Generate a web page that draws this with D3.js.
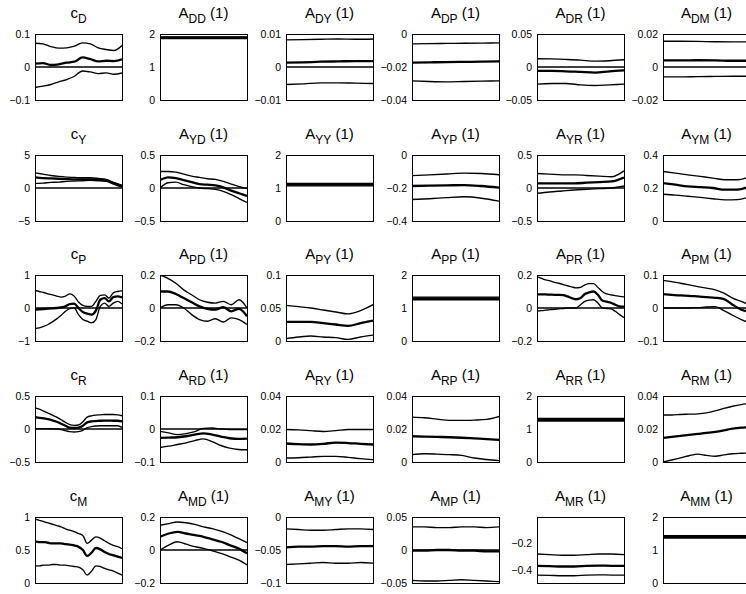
<!DOCTYPE html>
<html>
<head>
<meta charset="utf-8">
<script src="https://cdn.jsdelivr.net/npm/d3@7"></script>
<style>
  html, body { margin: 0; padding: 0; background: #fff; }
  svg { display: block; font-family: "Liberation Sans", Arial, Helvetica, sans-serif; }
</style>
</head>
<body>
<svg id="chart" width="746" height="594"></svg>
<script>
// ---- data ----
const rowVars = ["D", "Y", "P", "R", "M"];
const colVars = ["D", "Y", "P", "R", "M"];

// y-axis limits per panel (row-major, 6 per row)
const yDomains = [
  [-0.1, 0.1], [0, 2], [-0.01, 0.01], [-0.04, 0], [-0.05, 0.05], [-0.02, 0.02],
  [-5, 5], [-0.5, 0.5], [0, 2], [-0.4, 0], [-0.5, 0.5], [0, 0.4],
  [-1, 1], [-0.2, 0.2], [0, 0.1], [0, 2], [-0.2, 0.2], [-0.1, 0.1],
  [-0.5, 0.5], [-0.1, 0.1], [0, 0.04], [0, 0.04], [0, 2], [0, 0.04],
  [0, 1], [-0.2, 0.2], [-0.1, 0], [-0.05, 0.05], [-0.5, 0], [0, 2]
];
const yTicks = [
  [-0.1, 0, 0.1], [0, 1, 2], [-0.01, 0, 0.01], [-0.04, -0.02, 0], [-0.05, 0, 0.05], [-0.02, 0, 0.02],
  [-5, 0, 5], [-0.5, 0, 0.5], [0, 1, 2], [-0.4, -0.2, 0], [-0.5, 0, 0.5], [0, 0.2, 0.4],
  [-1, 0, 1], [-0.2, 0, 0.2], [0, 0.05, 0.1], [0, 1, 2], [-0.2, 0, 0.2], [-0.1, 0, 0.1],
  [-0.5, 0, 0.5], [-0.1, 0, 0.1], [0, 0.02, 0.04], [0, 0.02, 0.04], [0, 1, 2], [0, 0.02, 0.04],
  [0, 0.5, 1], [-0.2, 0, 0.2], [-0.1, -0.05, 0], [-0.05, 0, 0.05], [-0.4, -0.2], [0, 1, 2]
];

// each panel: [upper band, median, lower band]
const cD = [
  [0.072,0.07,0.062,0.057,0.058,0.063,0.073,0.07,0.058,0.053,0.05,0.065],
  [0.01,0.012,0.006,0.008,0.013,0.016,0.029,0.024,0.017,0.019,0.018,0.023],
  [-0.062,-0.058,-0.053,-0.045,-0.038,-0.028,-0.012,-0.015,-0.02,-0.018,-0.022,-0.018]
];
const ADD = [
  [1.915,1.915,1.915,1.915,1.915,1.915],
  [1.89,1.89,1.89,1.89,1.89,1.89],
  [1.865,1.865,1.865,1.865,1.865,1.865]
];
const ADY = [
  [0.0082,0.0083,0.0084,0.0085,0.0084,0.0085],
  [0.0013,0.0014,0.0016,0.0017,0.0018,0.0018],
  [-0.0053,-0.0051,-0.0048,-0.0048,-0.0049,-0.005]
];
const ADP = [
  [-0.006,-0.0058,-0.0057,-0.0056,-0.0055,-0.0054],
  [-0.0174,-0.0172,-0.017,-0.0169,-0.0168,-0.0166],
  [-0.0284,-0.0288,-0.029,-0.0288,-0.0286,-0.0284]
];
const ADR = [
  [0.0125,0.0122,0.0115,0.0105,0.0088,0.0095,0.011],
  [-0.006,-0.006,-0.0065,-0.0075,-0.0085,-0.0065,-0.005],
  [-0.026,-0.025,-0.025,-0.027,-0.028,-0.027,-0.026]
];
const ADM = [
  [0.0156,0.0156,0.0155,0.0153,0.0152,0.0152],
  [0.004,0.004,0.0041,0.004,0.0038,0.0038],
  [-0.006,-0.006,-0.0058,-0.0057,-0.0056,-0.0056]
];
const cY = [
  [2.3,2.1,1.9,1.75,1.65,1.6,1.55,1.55,1.45,1.3,0.8,0.4],
  [1.6,1.5,1.45,1.4,1.35,1.3,1.3,1.3,1.25,1.15,0.7,0.3],
  [0.7,0.75,0.85,0.9,1.0,1.05,1.1,1.15,1.1,1.0,0.55,0.15]
];
const AYD = [
  [0.25,0.25,0.24,0.21,0.18,0.16,0.14,0.13,0.1,0.06,0.02,-0.01],
  [0.12,0.16,0.15,0.12,0.09,0.06,0.05,0.04,0.01,-0.04,-0.08,-0.12],
  [0.0,0.08,0.09,0.05,0.02,0.0,-0.01,-0.02,-0.05,-0.1,-0.16,-0.22]
];
const AYY = [
  [1.135,1.135,1.135,1.135,1.135,1.135],
  [1.1,1.1,1.1,1.1,1.1,1.1],
  [1.065,1.065,1.065,1.065,1.065,1.065]
];
const AYP = [
  [-0.125,-0.12,-0.115,-0.11,-0.112,-0.12],
  [-0.188,-0.186,-0.184,-0.182,-0.188,-0.198],
  [-0.27,-0.265,-0.258,-0.253,-0.262,-0.28]
];
const AYR = [
  [0.22,0.21,0.2,0.2,0.19,0.18,0.17,0.26],
  [0.07,0.07,0.07,0.07,0.08,0.09,0.1,0.16],
  [-0.08,-0.06,-0.045,-0.03,-0.02,-0.01,0.0,0.03]
];
const AYM = [
  [0.3,0.29,0.28,0.27,0.26,0.25,0.25,0.27],
  [0.23,0.22,0.21,0.205,0.2,0.19,0.19,0.21],
  [0.162,0.157,0.15,0.143,0.135,0.128,0.13,0.148]
];
const cP = [
  [0.53,0.5,0.47,0.43,0.4,0.36,0.33,0.36,0.43,0.36,0.18,0.08,0.05,0.05,0.2,0.38,0.4,0.3,0.46,0.5,0.52],
  [-0.05,-0.04,-0.03,-0.02,-0.01,0.0,0.02,0.05,0.12,0.13,0.0,-0.12,-0.17,-0.2,-0.08,0.25,0.3,0.2,0.33,0.35,0.32],
  [-0.62,-0.6,-0.56,-0.5,-0.42,-0.33,-0.22,-0.1,-0.02,0.0,-0.2,-0.35,-0.4,-0.45,-0.35,0.05,0.15,0.05,0.15,0.2,0.12]
];
const APD = [
  [0.2,0.18,0.15,0.11,0.08,0.05,0.035,0.03,0.04,0.02,0.05,0.0],
  [0.1,0.1,0.085,0.06,0.035,0.01,-0.005,-0.01,0.005,-0.02,-0.005,-0.05],
  [0.0,0.02,0.02,0.0,-0.04,-0.07,-0.08,-0.065,-0.085,-0.06,-0.07,-0.1]
];
const APY = [
  [0.054,0.052,0.05,0.047,0.044,0.041,0.046,0.055],
  [0.029,0.029,0.029,0.027,0.025,0.023,0.027,0.031],
  [0.0035,0.006,0.0076,0.006,0.005,0.0025,0.006,0.009]
];
const APP = [
  [1.33,1.33,1.33,1.33,1.33,1.33],
  [1.29,1.29,1.29,1.29,1.29,1.29],
  [1.25,1.25,1.25,1.25,1.25,1.25]
];
const APR = [
  [0.19,0.18,0.17,0.165,0.155,0.15,0.142,0.135,0.128,0.122,0.125,0.14,0.148,0.148,0.125,0.1,0.085,0.08,0.075,0.07,0.067],
  [0.083,0.083,0.082,0.081,0.08,0.08,0.078,0.07,0.06,0.053,0.06,0.085,0.095,0.1,0.08,0.045,0.038,0.032,0.02,0.01,0.008],
  [-0.018,-0.016,-0.013,-0.01,-0.008,-0.005,-0.003,0,0,0,0.02,0.04,0.048,0.05,0.03,0.0,-0.003,-0.005,-0.02,-0.04,-0.058]
];
const APM = [
  [0.084,0.08,0.075,0.07,0.065,0.06,0.055,0.045,0.03,0.02,0.008],
  [0.042,0.04,0.038,0.037,0.035,0.033,0.031,0.027,0.01,-0.005,-0.012],
  [0,0,0,0,0.001,0.003,0.004,-0.008,-0.022,-0.035,-0.045]
];
const cR = [
  [0.32,0.3,0.27,0.24,0.21,0.18,0.14,0.1,0.066,0.056,0.06,0.11,0.18,0.2,0.21,0.215,0.22,0.22,0.22,0.215,0.2],
  [0.18,0.17,0.16,0.15,0.13,0.11,0.08,0.05,0.02,0.015,0.02,0.05,0.1,0.115,0.12,0.125,0.127,0.127,0.125,0.125,0.117],
  [0.005,0.005,0.005,0.005,0.003,0,-0.01,-0.025,-0.04,-0.046,-0.04,-0.02,0.02,0.035,0.045,0.05,0.05,0.05,0.05,0.05,0.025]
];
const ARD = [
  [-0.007,-0.012,-0.017,-0.014,-0.008,0.002,0.003,0.0,-0.002,-0.002,-0.002],
  [-0.027,-0.026,-0.025,-0.022,-0.017,-0.013,-0.017,-0.023,-0.028,-0.03,-0.029],
  [-0.056,-0.052,-0.047,-0.042,-0.035,-0.03,-0.038,-0.05,-0.058,-0.062,-0.063]
];
const ARY = [
  [0.0197,0.0195,0.019,0.0185,0.019,0.0197,0.0197,0.0197],
  [0.0112,0.0108,0.0106,0.011,0.0118,0.0115,0.011,0.0106],
  [0.0024,0.0026,0.003,0.0034,0.0034,0.0028,0.002,0.0014]
];
const ARP = [
  [0.0272,0.0268,0.026,0.0252,0.0252,0.0254,0.0258,0.0276],
  [0.0156,0.0154,0.0152,0.015,0.0147,0.0143,0.0139,0.0134],
  [0.0045,0.005,0.0048,0.0045,0.004,0.0024,0.0015,0.0008]
];
const ARR = [
  [1.32,1.32,1.32,1.32,1.32,1.32],
  [1.28,1.28,1.28,1.28,1.28,1.28],
  [1.24,1.24,1.24,1.24,1.24,1.24]
];
const ARM = [
  [0.0285,0.0285,0.0288,0.029,0.0292,0.0298,0.031,0.0325,0.0338,0.0348,0.0355],
  [0.0146,0.0152,0.0158,0.0164,0.017,0.0176,0.0183,0.0192,0.0202,0.0208,0.0211],
  [0.0,0.0012,0.0025,0.0038,0.0048,0.004,0.0035,0.0043,0.005,0.0053,0.0055]
];
const cM = [
  [0.97,0.95,0.93,0.91,0.89,0.87,0.85,0.82,0.8,0.78,0.75,0.72,0.6,0.65,0.7,0.68,0.64,0.6,0.57,0.55,0.52],
  [0.63,0.62,0.62,0.61,0.6,0.6,0.6,0.59,0.58,0.57,0.55,0.5,0.41,0.46,0.53,0.51,0.47,0.44,0.42,0.4,0.38],
  [0.26,0.26,0.27,0.27,0.28,0.28,0.27,0.27,0.26,0.25,0.24,0.2,0.12,0.18,0.26,0.25,0.22,0.2,0.18,0.15,0.12]
];
const AMD = [
  [0.15,0.16,0.17,0.165,0.155,0.14,0.13,0.115,0.095,0.07,0.045],
  [0.08,0.1,0.11,0.1,0.09,0.08,0.065,0.05,0.03,0.01,-0.02],
  [0.0,0.03,0.05,0.035,0.02,0.01,-0.005,-0.02,-0.04,-0.06,-0.09]
];
const AMY = [
  [-0.018,-0.019,-0.02,-0.02,-0.019,-0.018,-0.018,-0.019],
  [-0.046,-0.045,-0.045,-0.044,-0.044,-0.045,-0.044,-0.044],
  [-0.072,-0.071,-0.07,-0.069,-0.07,-0.07,-0.069,-0.07]
];
const AMP = [
  [0.035,0.035,0.034,0.034,0.035,0.035,0.034,0.035],
  [-0.001,-0.001,0,0,-0.001,-0.001,-0.002,-0.002],
  [-0.046,-0.047,-0.047,-0.046,-0.045,-0.046,-0.047,-0.048]
];
const AMR = [
  [-0.28,-0.285,-0.29,-0.29,-0.285,-0.28,-0.28,-0.285],
  [-0.37,-0.372,-0.375,-0.375,-0.37,-0.368,-0.37,-0.37],
  [-0.44,-0.442,-0.445,-0.445,-0.44,-0.438,-0.44,-0.44]
];
const AMM = [
  [1.435,1.435,1.435,1.435,1.435,1.435],
  [1.4,1.4,1.4,1.4,1.4,1.4],
  [1.365,1.365,1.365,1.365,1.365,1.365]
];

const panelSeries = [
  cD, ADD, ADY, ADP, ADR, ADM,
  cY, AYD, AYY, AYP, AYR, AYM,
  cP, APD, APY, APP, APR, APM,
  cR, ARD, ARY, ARP, ARR, ARM,
  cM, AMD, AMY, AMP, AMR, AMM
];

// ---- drawing ----
const svg = d3.select("#chart");
const W = 87, H = 66;
const fmt = d3.format("~g");
const widths = [1.35, 2.3, 1.35];

panelSeries.forEach((ser, i) => {
  const r = Math.floor(i / 6), c = i % 6;
  const left = Math.round(34.5 + c * 125.7);
  const top = Math.round(33.8 + r * 120.8);
  const g = svg.append("g").attr("transform", `translate(${left},${top})`);
  const dom = yDomains[i];
  const y = d3.scaleLinear().domain(dom).range([H, 0]);
  const x = d3.scaleLinear().domain([0, 1]).range([0, W]);

  // title
  const t = g.append("text")
    .attr("x", W / 2).attr("y", -16)
    .attr("text-anchor", "middle")
    .attr("font-size", 15).attr("fill", "#000");
  if (c === 0) {
    t.append("tspan").text("c");
    t.append("tspan").attr("font-size", 12).attr("dy", 5).text(rowVars[r]);
  } else {
    t.append("tspan").text("A");
    t.append("tspan").attr("font-size", 12).attr("dy", 5).text(rowVars[r] + colVars[c - 1]);
    t.append("tspan").attr("dy", -5).text("\u00a0(1)");
  }

  // clip
  const cid = "clip" + i;
  g.append("clipPath").attr("id", cid)
    .append("rect").attr("x", 0).attr("y", 0).attr("width", W).attr("height", H);

  // y axis (labels only)
  const ax = g.append("g").attr("class", "yaxis")
    .call(d3.axisLeft(y).tickValues(yTicks[i]).tickSize(0).tickPadding(5).tickFormat(fmt));
  ax.select(".domain").remove();
  ax.selectAll("text").attr("font-size", 10.5).attr("fill", "#000")
    .attr("font-family", "'Liberation Sans', Arial, sans-serif");

  const plot = g.append("g").attr("clip-path", `url(#${cid})`);

  // zero line
  if (dom[0] < 0 && dom[1] > 0) {
    plot.append("line")
      .attr("x1", 0).attr("x2", W)
      .attr("y1", y(0)).attr("y2", y(0))
      .attr("stroke", "#000").attr("stroke-width", 1.4);
  }

  ser.forEach((vals, k) => {
    const n = vals.length;
    const line = d3.line()
      .x((d, j) => x(j / (n - 1)))
      .y(d => y(d))
      .curve(d3.curveMonotoneX);
    plot.append("path")
      .attr("d", line(vals))
      .attr("fill", "none")
      .attr("stroke", "#000")
      .attr("stroke-width", widths[k])
      .attr("stroke-linejoin", "round");
  });

  // box
  g.append("rect")
    .attr("x", 0.5).attr("y", 0.5)
    .attr("width", W).attr("height", H)
    .attr("fill", "none").attr("stroke", "#000").attr("stroke-width", 1);
});
</script>
</body>
</html>
